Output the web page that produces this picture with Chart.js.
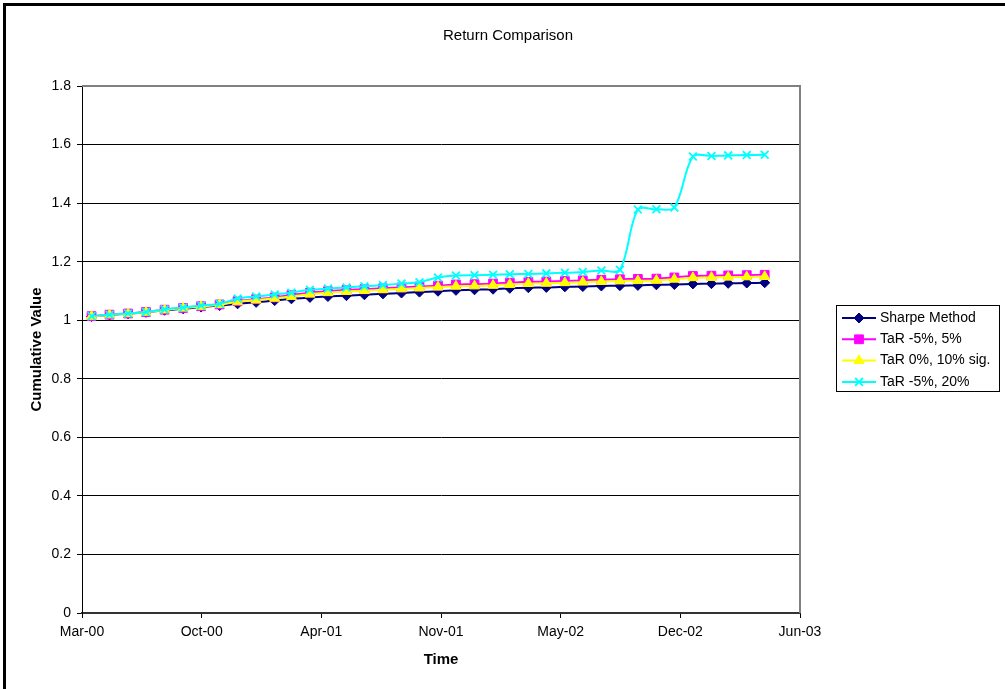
<!DOCTYPE html>
<html>
<head>
<meta charset="utf-8">
<title>Return Comparison</title>
<script src="https://cdn.jsdelivr.net/npm/chart.js@4/dist/chart.umd.min.js"></script>
<style>
	html, body { margin: 0; padding: 0; background: #fff; }
	canvas { display: block; }
</style>
</head>
<body>
<canvas id="returnChart" width="1005" height="689"></canvas>
<script>
// month-end observation dates
const DATES = [
	'2000-03-31', '2000-04-30', '2000-05-31', '2000-06-30', '2000-07-31', '2000-08-31',
	'2000-09-30', '2000-10-31', '2000-11-30', '2000-12-31', '2001-01-31', '2001-02-28',
	'2001-03-31', '2001-04-30', '2001-05-31', '2001-06-30', '2001-07-31', '2001-08-31',
	'2001-09-30', '2001-10-31', '2001-11-30', '2001-12-31', '2002-01-31', '2002-02-28',
	'2002-03-31', '2002-04-30', '2002-05-31', '2002-06-30', '2002-07-31', '2002-08-31',
	'2002-09-30', '2002-10-31', '2002-11-30', '2002-12-31', '2003-01-31', '2003-02-28',
	'2003-03-31', '2003-04-30'
];

const SHARPE = [
	1.013, 1.018, 1.022, 1.027, 1.034, 1.039, 1.045, 1.050, 1.056, 1.061,
	1.067, 1.073, 1.078, 1.081, 1.084, 1.087, 1.090, 1.093, 1.096, 1.099,
	1.102, 1.104, 1.106, 1.109, 1.111, 1.112, 1.114, 1.115, 1.117, 1.118,
	1.119, 1.121, 1.122, 1.124, 1.125, 1.126, 1.127, 1.128
];

const TAR_5_5 = [
	1.014, 1.019, 1.023, 1.028, 1.036, 1.042, 1.048, 1.054, 1.065, 1.072,
	1.078, 1.086, 1.094, 1.099, 1.103, 1.106, 1.109, 1.112, 1.115, 1.118,
	1.122, 1.123, 1.125, 1.128, 1.131, 1.132, 1.134, 1.136, 1.138, 1.140,
	1.141, 1.142, 1.146, 1.151, 1.152, 1.153, 1.154, 1.155
];

const TAR_0_10 = [
	1.013, 1.018, 1.022, 1.027, 1.035, 1.041, 1.047, 1.053, 1.063, 1.069,
	1.075, 1.081, 1.089, 1.094, 1.098, 1.101, 1.104, 1.107, 1.110, 1.113,
	1.116, 1.117, 1.119, 1.122, 1.125, 1.126, 1.128, 1.130, 1.132, 1.134,
	1.135, 1.136, 1.140, 1.145, 1.146, 1.147, 1.148, 1.149
];

const TAR_5_20 = [
	1.014, 1.019, 1.023, 1.028, 1.037, 1.043, 1.050, 1.056, 1.074, 1.081,
	1.088, 1.094, 1.104, 1.108, 1.112, 1.116, 1.120, 1.125, 1.130, 1.146,
	1.153, 1.154, 1.155, 1.157, 1.158, 1.160, 1.162, 1.165, 1.170, 1.172,
	1.378, 1.379, 1.385, 1.559, 1.561, 1.563, 1.564, 1.565
];

const LABELS	= [ 'Sharpe Method', 'TaR -5%, 5%', 'TaR 0%, 10% sig.', 'TaR -5%, 20%' ];
const AXIS_START	= '2000-03-15';	// Excel date axis: min date, 200 day major unit
const AXIS_STEP	= 200;
const AXIS_STEPS	= 6;
const Y_TICKS	= [ 0, 0.2, 0.4, 0.6, 0.8, 1, 1.2, 1.4, 1.6, 1.8 ];
const MONTHS	= [ 'Jan', 'Feb', 'Mar', 'Apr', 'May', 'Jun', 'Jul', 'Aug', 'Sep', 'Oct', 'Nov', 'Dec' ];

const FONT = '"Liberation Sans", Arial, sans-serif';

function dayNum( s ) {
	let p = s.split( '-' ).map( Number );
	return Date.UTC( p[0], p[1] - 1, p[2] ) / 86400000;
}

function dayLabel( v ) {
	let d = new Date( Math.round( v ) * 86400000 );
	return MONTHS[ d.getUTCMonth() ] + '-' + String( d.getUTCFullYear() % 100 ).padStart( 2, '0' );
}

function series( values ) {
	return values.map( ( v, i ) => ( { x: dayNum( DATES[ i ] ), y: v } ) );
}

/******** frame, plot border, title, legend ********/

const decor = {
	id: 'decor',
	beforeDraw( chart ) {
		let ctx = chart.ctx;
		ctx.save();
		ctx.fillStyle = '#fff';
		ctx.fillRect( 0, 0, chart.width, chart.height );
		ctx.fillStyle = '#000';
		ctx.fillRect( 3, 3, 3, chart.height - 3 );
		ctx.fillRect( 3, 3, chart.width - 3, 3 );
		ctx.restore();
	},
	beforeDatasetsDraw( chart ) {
		let ctx = chart.ctx;
		let a = chart.chartArea;
		ctx.save();
		ctx.strokeStyle = '#808080';
		ctx.lineWidth = 2;
		ctx.beginPath();
		ctx.moveTo( a.left, a.top );
		ctx.lineTo( a.right, a.top );
		ctx.lineTo( a.right, a.bottom );
		ctx.stroke();
		ctx.restore();
	},
	afterDraw( chart ) {
		let ctx = chart.ctx;
		ctx.save();
		ctx.fillStyle = '#000';
		ctx.font = '15px ' + FONT;
		ctx.textAlign = 'center';
		ctx.textBaseline = 'middle';
		ctx.fillText( 'Return Comparison', 508, 36 );

		// legend box
		ctx.strokeStyle = '#000';
		ctx.lineWidth = 1;
		ctx.strokeRect( 836.5, 305.5, 163, 86 );

		chart.data.datasets.forEach( ( ds, i ) => {
			let y = 318 + i * 21.3;
			ctx.strokeStyle = ds.borderColor;
			ctx.lineWidth = ds.borderWidth;
			ctx.beginPath();
			ctx.moveTo( 842, y );
			ctx.lineTo( 876, y );
			ctx.stroke();

			ctx.fillStyle = ds.pointBackgroundColor;
			ctx.strokeStyle = ds.pointBorderColor;
			ctx.lineWidth = ds.pointBorderWidth;
			Chart.helpers.drawPoint( ctx, {
				pointStyle: ds.pointStyle,
				radius: ds.pointRadius,
				rotation: 0,
				borderWidth: ds.pointBorderWidth
			}, 859, y );

			ctx.fillStyle = '#000';
			ctx.font = '14px ' + FONT;
			ctx.textAlign = 'left';
			ctx.textBaseline = 'middle';
			ctx.fillText( ds.label, 880, y );
		});
		ctx.restore();
	}
};

function dataset( label, values, color, style, radius, order ) {
	return {
		label: label,
		data: series( values ),
		borderColor: color,
		backgroundColor: color,
		borderWidth: 2,
		pointStyle: style,
		pointRadius: radius,
		pointHoverRadius: radius,
		pointBackgroundColor: color,
		pointBorderColor: color,
		pointBorderWidth: style === 'crossRot' ? 1.8 : 1,
		fill: false,
		tension: 0.33,
		order: order
	};
}

window.addEventListener( 'load', function () {
	let ctx = document.getElementById( 'returnChart' );
	let xMin = dayNum( AXIS_START );

	new Chart( ctx, {
		type: 'line',
		data: {
			datasets: [
				dataset( LABELS[0], SHARPE,   '#000080', 'rectRot',  5,   4 ),
				dataset( LABELS[1], TAR_5_5,  '#FF00FF', 'rect',     6.2, 3 ),
				dataset( LABELS[2], TAR_0_10, '#FFFF00', 'triangle', 5.8, 2 ),
				dataset( LABELS[3], TAR_5_20, '#00FFFF', 'crossRot', 5.5, 1 ),
			]
		},
		plugins: [ decor ],
		options: {
			responsive: false,
			animation: false,
			devicePixelRatio: 1,
			layout: {
				padding: { left: 0, right: 205, top: 86, bottom: 0 }
			},
			plugins: {
				legend: { display: false },
				title: { display: false },
				tooltip: { enabled: false }
			},
			scales: {
				x: {
					type: 'linear',
					min: xMin,
					max: xMin + AXIS_STEP * AXIS_STEPS,
					afterFit: s => { s.height = 76; },
					ticks: {
						stepSize: AXIS_STEP,
						color: '#000',
						font: { family: FONT, size: 14 },
						padding: 6,
						maxRotation: 0,
						autoSkip: false,
						callback: v => dayLabel( v )
					},
					grid: {
						drawOnChartArea: false,
						drawTicks: true,
						tickLength: 5,
						color: '#000'
					},
					border: { color: '#333', width: 2 },
					title: {
						display: true,
						text: 'Time',
						color: '#000',
						font: { family: FONT, size: 15, weight: 'bold' },
						padding: { top: 0, bottom: 20 }
					}
				},
				y: {
					min: Y_TICKS[0],
					max: Y_TICKS[ Y_TICKS.length - 1 ],
					afterFit: s => { s.width = 82; },
					afterBuildTicks: s => { s.ticks = Y_TICKS.map( v => ( { value: v } ) ); },
					ticks: {
						color: '#000',
						font: { family: FONT, size: 14 },
						padding: 6,
						callback: v => String( Number( v.toFixed( 1 ) ) )
					},
					grid: {
						color: '#000',
						lineWidth: 1,
						tickLength: 5
					},
					border: { color: '#000', width: 1 },
					title: {
						display: true,
						text: 'Cumulative Value',
						color: '#000',
						font: { family: FONT, size: 15, weight: 'bold' },
						padding: { top: 28, bottom: 0 }
					}
				}
			}
		}
	});
});
</script>
</body>
</html>
